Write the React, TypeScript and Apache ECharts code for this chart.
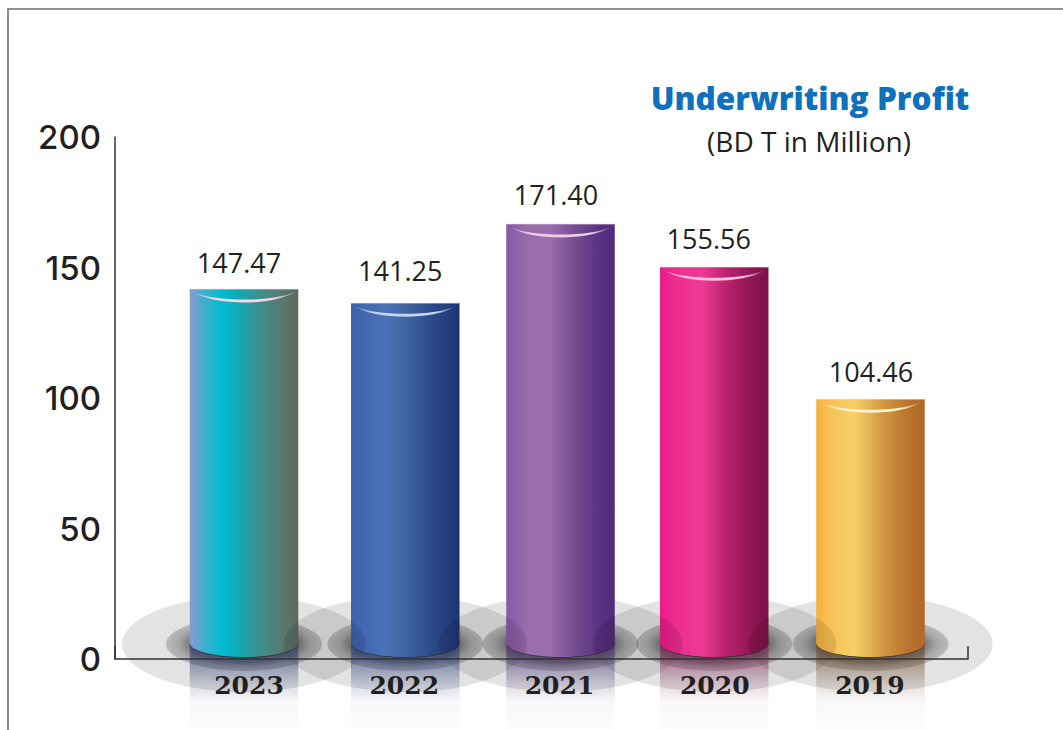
import React, { useEffect, useRef } from "react";
import * as echarts from "echarts";

const categories = ["2023", "2022", "2021", "2020", "2019"];
const valueLabels = ["147.47", "141.25", "171.40", "155.56", "104.46"];
// Bar tops as drawn in the picture, read against the left axis
const barHeights = [141.8, 136.4, 166.7, 150.2, 99.6];
const yTicks = [0, 50, 100, 150, 200];

const barGradients = [
  [[0, "#8c98d0"], [0.13, "#3fb0cc"], [0.3, "#00bcd2"], [0.45, "#12a9b2"], [0.65, "#3f8f8c"], [0.85, "#587a70"], [1, "#5c6a5c"]],
  [[0, "#3d62ac"], [0.3, "#4a72b8"], [0.5, "#41659f"], [0.75, "#2c4a88"], [1, "#1f3472"]],
  [[0, "#845aa6"], [0.2, "#9b6dae"], [0.4, "#9b6dad"], [0.65, "#744a90"], [0.85, "#5b3283"], [1, "#502a7c"]],
  [[0, "#ec1a8c"], [0.15, "#ee2d90"], [0.38, "#ee3a95"], [0.6, "#bc2470"], [0.85, "#8f1553"], [1, "#7a1248"]],
  [[0, "#f6b03c"], [0.12, "#f6c056"], [0.35, "#f6d066"], [0.6, "#d39a45"], [0.85, "#b9732c"], [1, "#b06a28"]],
];
const glossColors = ["#f7d5ea", "#c3d5f2", "#eccdea", "#fbc1de", "#fff3cf"];
const topEdges = ["rgba(190,200,235,0.8)", "rgba(170,190,230,0.8)", "rgba(200,170,215,0.8)", "rgba(245,150,195,0.7)", "rgba(250,220,150,0.7)"];
const reflectionTints = ["50,60,110", "40,60,120", "70,50,110", "120,40,85", "110,80,50"];
// Small horizontal shifts of the hand-placed shapes in the picture
const barShift = [-5, 1, 1, -0.5, 0.5];
const labelShift = [-10, -4, -3.5, -6, 1];
const labelLift = [26, 32, 29, 28, 28];

const BAR_W = 108.5;
const FOOT_RY = 14;
const OUTER_RX = 122;
const OUTER_RY = 48;
const INNER_RX = 78;
const INNER_RY = 27;

const xGrad = (stops: any[]) => ({
  type: "linear", x: 0, y: 0, x2: 1, y2: 0,
  colorStops: stops.map(([offset, color]) => ({ offset, color })),
});

const centreOf = (api: any, i: number) => api.coord([i, 0])[0] + barShift[i];

const shadowItem = (_p: any, api: any) => {
  const i = api.value(0);
  const cx = centreOf(api, i);
  const cy = api.coord([i, 0])[1] - 15;
  return {
    type: "group",
    children: [
      { type: "ellipse", shape: { cx, cy, rx: OUTER_RX, ry: OUTER_RY }, style: { fill: "rgba(0,0,0,0.11)" } },
      {
        type: "ellipse", shape: { cx, cy, rx: INNER_RX, ry: INNER_RY },
        style: {
          fill: {
            type: "radial", x: 0.5, y: 0.5, r: 0.5,
            colorStops: [
              { offset: 0, color: "rgba(0,0,0,0.6)" },
              { offset: 0.68, color: "rgba(0,0,0,0.48)" },
              { offset: 0.84, color: "rgba(0,0,0,0.27)" },
              { offset: 1, color: "rgba(0,0,0,0.18)" },
            ],
          },
        },
      },
    ],
  };
};

const reflectionItem = (_p: any, api: any) => {
  const i = api.value(0);
  const cx = centreOf(api, i);
  const base = api.coord([i, 0])[1];
  const t = reflectionTints[i];
  return {
    type: "rect",
    shape: { x: cx - BAR_W / 2, y: base - 16, width: BAR_W, height: 86 },
    style: {
      fill: {
        type: "linear", x: 0, y: 0, x2: 0, y2: 1,
        colorStops: [
          { offset: 0, color: `rgba(${t},0.7)` },
          { offset: 0.22, color: `rgba(${t},0.5)` },
          { offset: 0.5, color: `rgba(${t},0.17)` },
          { offset: 0.68, color: `rgba(${t},0.04)` },
          { offset: 1, color: `rgba(${t},0.015)` },
        ],
      },
    },
  };
};

const barItem = (_p: any, api: any) => {
  const i = api.value(0);
  const cx = centreOf(api, i);
  const top = api.coord([i, api.value(1)])[1];
  const base = api.coord([i, 0])[1];
  const footY = base - 16;
  const left = cx - BAR_W / 2;
  const fill = xGrad(barGradients[i]);
  const gw = BAR_W - 6;
  const d = `M0 0C${gw * 0.2} 10.7 ${gw * 0.8} 10.7 ${gw} 0C${gw * 0.8} 14.7 ${gw * 0.2} 14.7 0 0Z`;
  return {
    type: "group",
    children: [
      { type: "ellipse", shape: { cx, cy: footY + 0.8, rx: BAR_W / 2, ry: FOOT_RY }, style: { fill: "rgba(30,30,30,0.6)" } },
      { type: "ellipse", shape: { cx, cy: footY, rx: BAR_W / 2, ry: FOOT_RY }, style: { fill } },
      { type: "rect", shape: { x: left, y: top, width: BAR_W, height: footY - top }, style: { fill } },
      { type: "line", shape: { x1: left, y1: top + 0.4, x2: left + BAR_W, y2: top + 0.4 }, style: { stroke: topEdges[i], lineWidth: 0.8 } },
      {
        type: "path",
        shape: { pathData: d, layout: "cover", x: left + 3, y: top + 2.7, width: gw, height: 11 },
        style: {
          fill: {
            type: "linear", x: 0, y: 0, x2: 1, y2: 0,
            colorStops: [
              { offset: 0, color: "rgba(255,255,255,0.15)" },
              { offset: 0.22, color: glossColors[i] },
              { offset: 0.78, color: glossColors[i] },
              { offset: 1, color: "rgba(255,255,255,0.15)" },
            ],
          },
        },
      },
    ],
  };
};

// Neighbouring floor discs also tint the sides of each cylinder
const overlapItem = (_p: any, api: any) => {
  const i = api.value(0);
  const cx = centreOf(api, i);
  const base = api.coord([i, 0])[1];
  const cy = base - 15;
  const footY = base - 16;
  const left = cx - BAR_W / 2;
  const right = cx + BAR_W / 2;
  const children: any[] = [];
  [i - 1, i + 1].forEach((n) => {
    if (n < 0 || n >= categories.length) return;
    const nx = centreOf(api, n);
    const from = n < i ? left : Math.max(left, nx - OUTER_RX);
    const to = n < i ? Math.min(right, nx + OUTER_RX) : right;
    if (to <= from) return;
    const upper: number[][] = [];
    const lower: number[][] = [];
    for (let s = 0; s <= 16; s++) {
      const x = from + ((to - from) * s) / 16;
      const u = (x - nx) / OUTER_RX;
      const h = OUTER_RY * Math.sqrt(Math.max(0, 1 - u * u));
      const b = (x - cx) / (BAR_W / 2);
      const foot = footY + FOOT_RY * Math.sqrt(Math.max(0, 1 - b * b));
      upper.push([x, cy - h]);
      lower.unshift([x, Math.min(cy + h, foot)]);
    }
    children.push({ type: "polygon", shape: { points: upper.concat(lower) }, style: { fill: "rgba(0,0,0,0.1)" } });
  });
  return { type: "group", children };
};

const labelItem = (_p: any, api: any) => {
  const i = api.value(0);
  const pt = api.coord([i, api.value(1)]);
  return {
    type: "text",
    style: {
      text: valueLabels[i],
      x: pt[0] + labelShift[i],
      y: pt[1] - labelLift[i],
      align: "center",
      verticalAlign: "middle",
      fill: "#231f20",
      font: '27px "Open Sans"',
    },
  };
};

const seriesData = categories.map((_, i) => [i, barHeights[i]]);
const customSeries = (renderItem: any, z: number) => ({
  type: "custom", xAxisIndex: 1, yAxisIndex: 1, z, silent: true,
  encode: { x: 0, y: 1 }, data: seriesData, renderItem, clip: false,
});

export default function App() {
  const ref = useRef<HTMLDivElement>(null);
  useEffect(() => {
    document.body.style.margin = "0";
    const chart = echarts.init(ref.current!, null, { renderer: "svg" });
    const grid = { top: 137, bottom: 71 };
    chart.setOption({
      animation: false,
      backgroundColor: "#ffffff",
      title: [
        {
          text: "Underwriting Profit", left: 805, top: 72, textAlign: "center",
          textStyle: { color: "#0f70bb", fontFamily: "Open Sans", fontWeight: 800, fontSize: 31.5, lineHeight: 40 },
        },
        {
          text: "(BD T in Million)", left: 804, top: 118, textAlign: "center",
          textStyle: { color: "#231f20", fontFamily: "Open Sans", fontWeight: 400, fontSize: 28, lineHeight: 36 },
        },
      ],
      graphic: [
        {
          type: "polyline", silent: true,
          shape: { points: [[8, 730], [8, 9], [1063, 9]] },
          style: { fill: "none", stroke: "#6d6e71", lineWidth: 1.6 },
        },
      ],
      grid: [
        { left: 115, right: 95, ...grid },
        { left: 171.4, right: 115.4, ...grid },
      ],
      xAxis: [
        {
          gridIndex: 0, type: "value", min: 0, max: 1, interval: 1, z: 10,
          axisLine: { show: true, lineStyle: { color: "#333333", width: 1.5 } },
          axisTick: { show: true, inside: true, length: 13, lineStyle: { color: "#333333", width: 1.5 } },
          axisLabel: { show: false }, splitLine: { show: false },
        },
        {
          gridIndex: 1, type: "category", data: categories, z: 10,
          axisLine: { show: false }, axisTick: { show: false }, splitLine: { show: false },
          axisLabel: {
            margin: 14, color: "#231f20", fontFamily: "DejaVu Serif", fontWeight: 700, fontSize: 25,
          },
        },
      ],
      yAxis: [
        {
          gridIndex: 0, type: "value", min: 0, max: 200, interval: 50,
          axisLine: { show: true, lineStyle: { color: "#333333", width: 1.5 } },
          axisTick: { show: false }, splitLine: { show: false },
          axisLabel: {
            margin: 14, color: "#231f20", fontFamily: "Inter", fontWeight: 500, fontSize: 33,
            formatter: (v: number) => (yTicks.includes(v) ? String(v) : ""),
          },
        },
        { gridIndex: 1, type: "value", min: 0, max: 200, interval: 50, show: false },
      ],
      series: [
        customSeries(shadowItem, 1),
        customSeries(reflectionItem, 2),
        customSeries(barItem, 3),
        customSeries(overlapItem, 4),
        customSeries(labelItem, 5),
      ],
    });
    return () => chart.dispose();
  }, []);
  return <div ref={ref} style={{ width: 1063, height: 730 }} />;
}
